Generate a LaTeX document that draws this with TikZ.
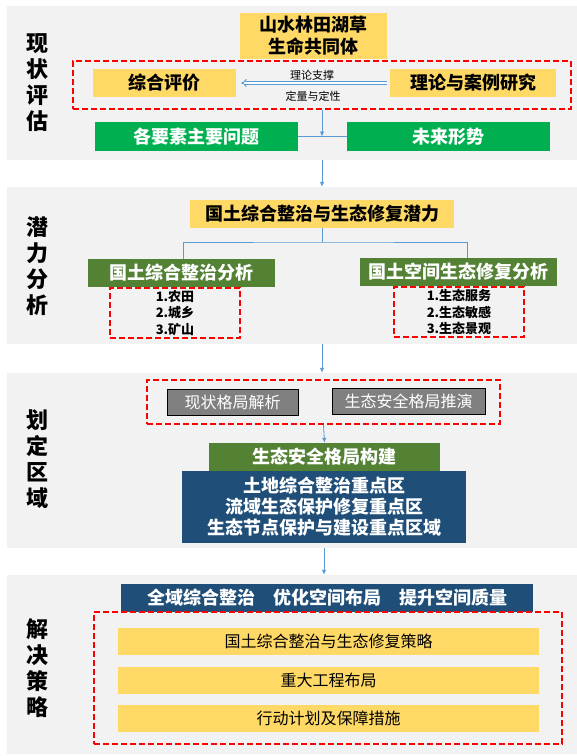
\documentclass[tikz,border=0pt]{standalone}
\usepackage{fontspec}
\setmainfont{Noto Sans CJK SC}
\usepackage{xcolor}
\usetikzlibrary{arrows.meta}

\definecolor{panelgray}{HTML}{F2F2F2}
\definecolor{boxyellow}{HTML}{FFD966}
\definecolor{brightgreen}{HTML}{00B050}
\definecolor{olivegreen}{HTML}{548235}
\definecolor{navyblue}{HTML}{1F4E79}
\definecolor{boxgray}{HTML}{808080}
\definecolor{linkblue}{HTML}{5B9BD5}
\definecolor{dashred}{HTML}{FF0000}

\begin{document}
\begin{tikzpicture}[x=1pt,y=-1pt,
    panel/.style={fill=panelgray, inner sep=0pt},
    sidelabel/.style={align=center, inner sep=0pt, font=\fontsize{22}{26}\selectfont\bfseries},
    yellowbox/.style={fill=boxyellow, inner sep=0pt, align=center, font=\fontsize{18}{22}\selectfont\bfseries},
    yellowbar/.style={fill=boxyellow, inner sep=0pt, minimum width=421pt, minimum height=27pt, font=\fontsize{16}{20}\selectfont},
    greenbox/.style={fill=brightgreen, text=white, inner sep=0pt, minimum width=203pt, minimum height=29pt, font=\fontsize{18}{22}\selectfont\bfseries},
    olivebox/.style={fill=olivegreen, text=white, inner sep=0pt, minimum height=28pt, font=\fontsize{18}{22}\selectfont\bfseries},
    bluebox/.style={fill=navyblue, text=white, inner sep=0pt, align=center, font=\fontsize{18}{21}\selectfont\bfseries},
    graybox/.style={fill=boxgray, draw=black, line width=1pt, text=white, inner sep=0pt, minimum height=26pt, font=\fontsize{16}{20}\selectfont},
    redbox/.style={draw=dashred, dash pattern=on 6pt off 3pt, line width=1.8pt, inner sep=0pt},
    listtext/.style={align=center, font=\fontsize{13}{16.5}\selectfont\bfseries},
    note/.style={inner sep=0pt, font=\fontsize{11}{13}\selectfont},
    link/.style={draw=linkblue, line width=0.8pt},
    tip/.style={-{Latex[length=5pt,width=4.5pt]}},
    hollow/.style={draw=linkblue, double=white, double distance=1.8pt, line width=0.9pt, -{Implies}}
  ]
  \useasboundingbox (0,0) rectangle (577,756);

  % background panels
  \node[panel, minimum width=570pt, minimum height=154pt] (p1) at (292,83) {};
  \node[panel, minimum width=570pt, minimum height=157pt] (p2) at (292,265.5) {};
  \node[panel, minimum width=570pt, minimum height=175pt] (p3) at (292,460.5) {};
  \node[panel, minimum width=570pt, minimum height=179pt] (p4) at (292,664.5) {};

  \node[sidelabel] (s1) at (38,83) {现\\状\\评\\估};
  \node[sidelabel] (s2) at (38,266) {潜\\力\\分\\析};
  \node[sidelabel] (s3) at (38,459) {划\\定\\区\\域};
  \node[sidelabel] (s4) at (38,668) {解\\决\\策\\略};

  % stage 1
  \node[yellowbox, minimum width=147pt, minimum height=46pt] (life) at (313.5,36) {山水林田湖草\\生命共同体};
  \node[redbox, minimum width=498pt, minimum height=48pt] (evalbox) at (322,85) {};
  \node[yellowbox, minimum width=143pt, minimum height=28pt] (assess) at (164.5,83) {综合评价};
  \node[yellowbox, minimum width=166pt, minimum height=28pt] (theory) at (473,83) {理论与案例研究};
  \draw[hollow, shorten <=3pt, shorten >=5pt] (theory.west) -- (assess.east);
  \node[note] (support) at (312,75) {理论支撑};
  \node[note] (method) at (313,96) {定量与定性};
  \node[greenbox] (issues) at (196.5,136.5) {各要素主要问题};
  \node[greenbox] (trend) at (448.5,136.5) {未来形势};
  \coordinate (join) at (evalbox.south |- issues.east);
  \draw[link] (issues.east) -- (trend.west);
  \draw[link, tip] (evalbox.south) -- (join);

  \draw[link, tip] (p1.south -| evalbox.south) -- (p2.north -| evalbox.south);

  % stage 2
  \node[yellowbox, minimum width=264pt, minimum height=28pt] (potential) at (322,214) {国土综合整治与生态修复潜力};
  \node[olivebox, minimum width=187pt] (landA) at (181.5,273) {国土综合整治分析};
  \node[olivebox, minimum width=197pt] (landB) at (458.5,272) {国土空间生态修复分析};
  \coordinate (split) at (322,242);
  \draw[link] (potential.south) -- (split);
  \draw[link] ([xshift=1.5pt]landA.north) |- (split) -| ([xshift=8.5pt]landB.north);
  \node[redbox, listtext, minimum width=130pt, minimum height=50pt] (listA) at (175,313) {1.农田\\2.城乡\\3.矿山};
  \node[redbox, listtext, minimum width=130pt, minimum height=50pt] (listB) at (459,312) {1.生态服务\\2.生态敏感\\3.生态景观};

  \draw[link, tip] (p2.south -| potential.south) -- (p3.north -| potential.south);

  % stage 3
  \node[redbox, minimum width=353pt, minimum height=44pt] (pattern) at (323.5,402) {};
  \node[graybox, minimum width=131pt] (current) at (232.5,402) {现状格局解析};
  \node[graybox, minimum width=153pt] (deduce) at (408.5,401.5) {生态安全格局推演};
  \node[olivebox, minimum width=231pt] (build) at (324.5,457) {生态安全格局构建};
  \node[bluebox, minimum width=284pt, minimum height=72pt] (zones) at (324,507) {土地综合整治重点区\\流域生态保护修复重点区\\生态节点保护与建设重点区域};
  \draw[link, tip] (pattern.south) -- (build.north);

  \draw[link, tip] (p3.south -| zones.south) -- (p4.north -| zones.south);

  % stage 4
  \node[bluebox, minimum width=412pt, minimum height=28pt] (goal) at (327,598) {全域综合整治　优化空间布局　提升空间质量};
  \node[redbox, minimum width=468pt, minimum height=132pt] (strategy) at (328,678) {};
  \node[yellowbar] (plan1) at (328.5,641.5) {国土综合整治与生态修复策略};
  \node[yellowbar] (plan2) at (328.5,680.5) {重大工程布局};
  \node[yellowbar] (plan3) at (328.5,718) {行动计划及保障措施};
\end{tikzpicture}
\end{document}
